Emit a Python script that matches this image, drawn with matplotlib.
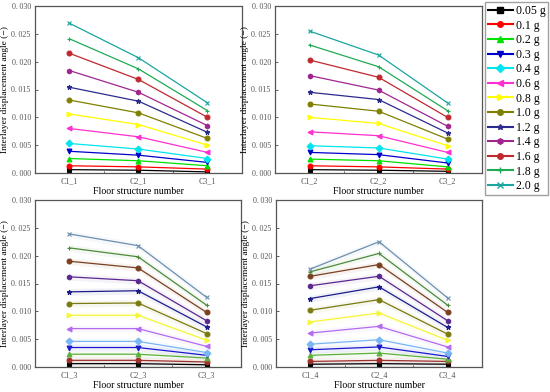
import numpy as np
import matplotlib
matplotlib.use("Agg")
import matplotlib.pyplot as plt
from matplotlib.ticker import FixedLocator, FuncFormatter
from matplotlib.lines import Line2D

plt.rcParams['font.family'] = ['Liberation Serif', 'DejaVu Serif']

# --- data ---
levels = ['0.05 g', '0.1 g', '0.2 g', '0.3 g', '0.4 g', '0.6 g', '0.8 g',
          '1.0 g', '1.2 g', '1.4 g', '1.6 g', '1.8 g', '2.0 g']

# each row: [C1, C2, C3] for one intensity level
panel1 = [[0.0006, 0.0005, 0.0002], [0.0013, 0.0011, 0.0007], [0.0026, 0.0022, 0.0013],
          [0.0039, 0.0032, 0.0019], [0.0053, 0.0043, 0.0026], [0.0080, 0.0065, 0.0037],
          [0.0106, 0.0087, 0.0050], [0.0131, 0.0108, 0.0062], [0.0154, 0.0129, 0.0073],
          [0.0184, 0.0145, 0.0085], [0.0215, 0.0168, 0.0100], [0.0241, 0.0187, 0.0112],
          [0.0269, 0.0207, 0.0126]]
panel2 = [[0.0006, 0.0005, 0.0003], [0.0013, 0.0011, 0.0007], [0.0025, 0.0022, 0.0011],
          [0.0037, 0.0033, 0.0018], [0.0049, 0.0045, 0.0025], [0.0074, 0.0067, 0.0037],
          [0.0100, 0.0089, 0.0049], [0.0124, 0.0111, 0.0061], [0.0145, 0.0132, 0.0072],
          [0.0175, 0.0149, 0.0084], [0.0203, 0.0172, 0.0100], [0.0230, 0.0191, 0.0112],
          [0.0255, 0.0212, 0.0126]]
panel3 = [[0.0006, 0.0006, 0.0004], [0.0012, 0.0012, 0.0009], [0.0023, 0.0023, 0.0016],
          [0.0035, 0.0035, 0.0021], [0.0046, 0.0046, 0.0026], [0.0069, 0.0069, 0.0037],
          [0.0093, 0.0093, 0.0048], [0.0114, 0.0115, 0.0060], [0.0135, 0.0137, 0.0072],
          [0.0162, 0.0155, 0.0083], [0.0190, 0.0178, 0.0098], [0.0214, 0.0198, 0.0111],
          [0.0239, 0.0218, 0.0125]]
panel4 = [[0.0005, 0.0006, 0.0005], [0.0010, 0.0012, 0.0010], [0.0021, 0.0025, 0.0014],
          [0.0031, 0.0036, 0.0019], [0.0041, 0.0049, 0.0025], [0.0061, 0.0073, 0.0036],
          [0.0081, 0.0097, 0.0048], [0.0102, 0.0121, 0.0059], [0.0123, 0.0144, 0.0071],
          [0.0146, 0.0163, 0.0083], [0.0163, 0.0184, 0.0098], [0.0171, 0.0204, 0.0111],
          [0.0176, 0.0225, 0.0124]]

panels = [panel1, panel2, panel3, panel4]
suffix = ['1', '2', '3', '4']

# styles
markers = ['s', 'o', '^', 'v', 'D', '<', '>', 'o', '*', 'h', 'o', '+', 'x']
colors_top = ['#000000', '#ff0000', '#00e000', '#0000cc', '#00e5ee', '#ff2fd0', '#ffff00',
              '#808000', '#2b2b8f', '#a0268f', '#c0282e', '#1faa55', '#1aa5a0']
colors_bot = ['#000000', '#a0302a', '#5cb03c', '#1a1acc', '#79b6f2', '#b36bf0', '#f5f53a',
              '#7a7a10', '#1d1d8a', '#5a2a90', '#7a4020', '#4f8a3c', '#6d8fb0']

fig = plt.figure(figsize=(5.5, 3.92), dpi=100)
W, H = 550.0, 392.0
boxes = [(35, 6, 207, 167), (275, 6, 207, 167), (35, 200, 206, 167), (276, 200, 206, 167)]

xs = np.arange(3)
for k, (px, py, pw, ph) in enumerate(boxes):
    ax = fig.add_axes([px / W, 1 - (py + ph) / H, pw / W, ph / H])
    colors = colors_top if k < 2 else colors_bot
    for i, row in enumerate(panels[k]):
        c = colors[i]
        if k >= 2:
            ax.fill_between(xs, np.array(row) - 0.0006, np.array(row) + 0.0006,
                            color=c, alpha=0.06, lw=0)
        ax.plot(xs, row, color=c, lw=0.9, marker=markers[i], ms=3.5, mew=0.8,
                mec=c, mfc=c)
    ax.set_xlim(-0.5, 2.5)
    ax.set_ylim(0, 0.030)
    ax.xaxis.set_major_locator(FixedLocator([0, 1, 2]))
    ax.xaxis.set_minor_locator(FixedLocator([0.5, 1.5]))
    ax.set_xticklabels(['C1_' + suffix[k], 'C2_' + suffix[k], 'C3_' + suffix[k]])
    ax.yaxis.set_major_locator(FixedLocator(np.arange(0, 0.0301, 0.005)))
    ax.yaxis.set_major_formatter(FuncFormatter(lambda v, p: '0.\u2009%03d' % round(v * 1000)))
    ax.tick_params(which='both', direction='in', colors='#444444', labelsize=5.8,
                   labelcolor='#555555', length=2.5, width=0.6)
    ax.tick_params(which='minor', length=1.5)
    ax.tick_params(axis='y', pad=3)
    ax.tick_params(axis='x', pad=3)
    for s in ax.spines.values():
        s.set_color('#555555')
        s.set_linewidth(0.9)
    ax.set_xlabel('Floor structure number', fontsize=7, labelpad=1.5)
    ax.set_ylabel('Interlayer displacement angle (\u2212)', fontsize=6.8, labelpad=2)

# legend at the upper right
handles = [Line2D([], [], color=colors_top[i], lw=1.5, marker=markers[i], ms=4,
                  mec=colors_top[i], mfc=colors_top[i]) for i in range(len(levels))]
fig.legend(handles, levels, loc='upper left', bbox_to_anchor=(485 / W, 1 - 2 / H),
           frameon=True, fontsize=8.5, handlelength=2.1, handletextpad=0.25,
           labelspacing=0.22, borderpad=0.25, borderaxespad=0, fancybox=False,
           edgecolor='#888888')

fig.savefig('out.png', dpi=100)
